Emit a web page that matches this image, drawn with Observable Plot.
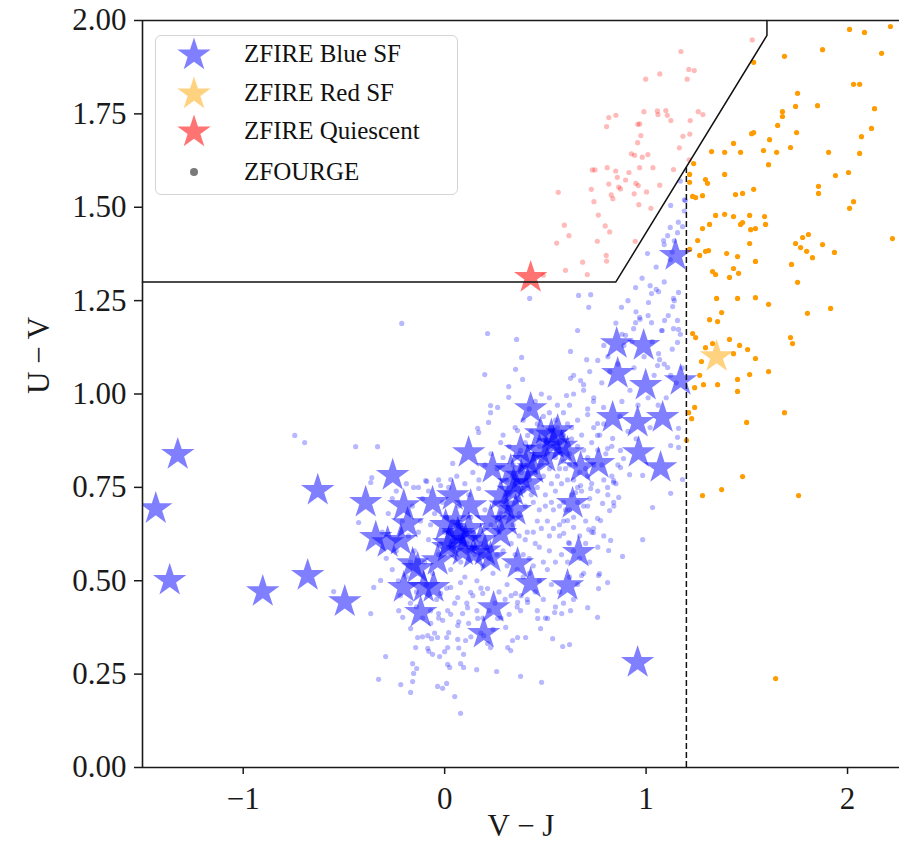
<!DOCTYPE html>
<html>
<head>
<meta charset="utf-8">
<script src="https://cdn.jsdelivr.net/npm/d3@7"></script>
<script src="https://cdn.jsdelivr.net/npm/@observablehq/plot@0.6"></script>
<style>
  body { margin: 0; background: #fff; }
  #wrap { position: relative; width: 899px; height: 847px; overflow: hidden; }
  #legend { position: absolute; left: 155px; top: 35px; width: 301px; height: 158px;
    border: 1.5px solid #d4d4d4; border-radius: 6px; background: rgba(255,255,255,0.85);
    font-family: "Liberation Serif", serif; font-size: 25px; color: #111; }
  .lrow { position: absolute; left: 0; width: 300px; height: 40px; }
  .lrow svg { position: absolute; left: 18px; top: 0; }
  .lrow span { position: absolute; left: 88px; top: 50%; transform: translateY(-50%); white-space: nowrap; }
</style>
</head>
<body>
<div id="wrap"></div>
<script>
// ---------------- data (V−J, U−V) ----------------
const xTicks = [-1, 0, 1, 2];
const yTicks = [0, 0.25, 0.5, 0.75, 1.0, 1.25, 1.5, 1.75, 2.0];

// UVJ selection boundary and separation line
const boundaryVJ = [-1.5, 0.85, 1.6, 1.6];
const boundaryUV = [1.3, 1.3, 1.96, 2.0];
const dividerVJ = 1.2;
const dividerTopUV = 1.606;

// ZFIRE stars
const zfireBlue = [
  [-1.325,0.838],[-1.434,0.693],[-1.365,0.501],[-0.903,0.471],[-0.680,0.514],[-0.630,0.742],
  [-0.496,0.444],[-0.392,0.710],[-0.258,0.782],[-0.342,0.616],[-0.203,0.701],[-0.060,0.710],
  [-0.218,0.608],[-0.134,0.533],[-0.203,0.482],[-0.119,0.415],[-0.055,0.482],[-0.184,0.653],
  [-0.283,0.602],[0.015,0.589],[0.040,0.728],[0.119,0.843],[0.238,0.801],[0.129,0.701],
  [0.065,0.627],[0.144,0.573],[0.228,0.562],[0.278,0.627],[0.342,0.760],[0.412,0.760],
  [0.412,0.822],[0.476,0.894],[0.561,0.902],[0.541,0.867],[0.610,0.843],[0.675,0.803],
  [0.764,0.814],[0.635,0.707],[0.665,0.576],[0.610,0.487],[0.427,0.493],[0.362,0.546],
  [0.243,0.428],[0.194,0.359],[0.427,0.961],[0.958,0.281],[1.146,1.371],[0.854,1.135],
  [0.988,1.130],[0.859,1.055],[0.998,1.023],[1.171,1.036],[0.834,0.937],[0.958,0.924],
  [1.082,0.937],[0.963,0.843],[1.072,0.803],[-0.035,0.554],[-0.104,0.482],[-0.159,0.546],
  [0.055,0.661],[0.104,0.608],[0.005,0.648],[0.179,0.608],[0.228,0.661],[0.328,0.795],
  [0.377,0.849],[0.278,0.728],[0.352,0.688],
  [0.02,0.60],[0.09,0.58],[0.12,0.64],[0.20,0.58],[0.30,0.70],[0.34,0.74],[0.38,0.78],
  [0.44,0.80],[0.47,0.85],[0.50,0.83],[0.53,0.89],[0.58,0.86],[0.07,0.62],[0.31,0.66]
];
const zfireRed = [[1.35, 1.10]];
const zfireQuiescent = [[0.427, 1.312]];

// ZFOURGE: blue star-forming sample
const zfourgeBlueOuter = [
  [-0.318,0.501],[-0.352,0.482],[-0.367,0.412],[-0.293,0.297],[-0.328,0.236],[-0.218,0.222],
  [-0.169,0.201],[-0.159,0.230],[-0.159,0.278],[-0.139,0.265],[-0.144,0.321],[-0.084,0.319],
  [-0.079,0.311],[-0.060,0.303],[-0.025,0.297],[-0.065,0.345],[-0.035,0.348],[0.015,0.321],
  [0.010,0.348],[0.065,0.343],[0.104,0.340],[0.094,0.303],[0.015,0.276],[0.025,0.268],
  [0.079,0.278],[0.094,0.268],[0.159,0.262],[0.258,0.257],[0.377,0.244],[0.481,0.228],
  [-0.035,0.217],[-0.010,0.212],[0.010,0.225],[0.050,0.190],[0.079,0.145],[0.313,0.321],
  [0.337,0.340],[0.362,0.348],[0.402,0.348],[0.328,0.313],[0.536,0.345],[0.586,0.324],
  [0.620,0.329],[0.476,0.372],[0.462,0.399],[0.511,0.399],[0.546,0.415],[0.581,0.412],
  [0.625,0.420],[0.377,0.420],[0.412,0.442],[0.362,0.442],[0.303,0.375],[0.263,0.399],
  [0.164,0.399],[0.119,0.386],[0.065,0.380],[0.020,0.361],[-0.010,0.394],[0.015,0.420],
  [-0.030,0.412],[-0.169,0.372],[-0.208,0.402],[-0.228,0.420],[-0.069,0.386],[0.089,0.412],
  [0.114,0.428],[0.065,0.455],[0.129,0.469],[0.189,0.466],[0.213,0.479],[0.352,0.466],
  [0.030,0.482],[0.079,0.495],[-0.020,0.466],[-0.084,0.353],[-0.134,0.348],[0.213,0.332],
  [0.228,0.321],[0.194,0.353],[-0.154,0.252],
  [0.228,0.969],[0.263,0.964],[0.228,0.950],[0.218,0.924],[0.164,0.908],[0.169,0.897],
  [0.278,0.870],[0.040,0.814],[-0.094,0.768],[-0.154,0.750],[-0.020,0.755],[0.030,0.771],
  [0.169,0.747],[1.122,0.734],[1.032,0.696],[0.983,0.610],[0.883,0.565],[0.814,0.581],
  [0.824,0.608],[0.739,0.629],[0.759,0.667],[0.839,0.710],[0.864,0.723],[0.809,0.750],
  [0.839,0.768],[0.873,0.803],[0.764,0.514],[0.809,0.495],[0.759,0.402],[0.710,0.428],
  [-0.744,0.889],[-0.695,0.870],[-0.442,0.859],[-0.333,0.859],[-0.367,0.763],[-0.362,0.776],
  [-0.427,0.656],[-0.089,0.766],[-0.551,0.471],[-0.213,1.189]
];
const zfourgeBlueUpper = [
  [0.422,1.256],[0.665,1.264],[0.725,1.266],[0.715,1.232],[0.878,1.232],[0.948,1.285],
  [1.027,1.269],[1.062,1.274],[1.012,1.245],[1.161,1.272],[1.136,1.256],[1.132,1.234],
  [0.948,1.191],[0.968,1.205],[0.938,1.175],[1.027,1.191],[1.092,1.197],[1.077,1.170],
  [1.136,1.175],[1.161,1.173],[0.660,1.170],[0.898,1.157],[0.213,1.162],[0.357,1.146],
  [0.625,1.114],[0.382,1.098],[0.705,1.092],[0.352,1.066],[0.199,1.052],[0.387,1.039],
  [0.625,1.042],[0.640,1.050],[0.675,1.036],[0.690,1.025],[0.318,1.020],[0.318,0.991],
  [0.605,0.996],[0.710,0.945],[0.739,0.980],[0.789,0.964],[0.759,0.921],[0.834,0.881],
  [0.759,0.889],[0.809,0.854],[0.873,0.849],[1.067,1.092],[1.107,1.071],[1.122,1.050],
  [1.161,0.908],[1.156,0.884],[1.122,0.862],[1.161,0.857],[1.156,1.197],[0.362,0.902],
  [0.412,0.889],[0.377,0.849],[1.156,1.432],[1.107,1.424],[1.087,1.411],[1.181,1.448],
  [1.007,1.376],[1.062,1.108],[1.057,1.076],[1.156,1.138],
  [0.888,0.827],[0.918,0.784],[0.983,0.782],[1.181,0.771],[0.839,0.763],[0.819,0.688],
  [0.784,0.707],[0.774,0.661],[0.725,0.747],[0.715,0.637],[0.739,0.640],[0.769,0.519],
  [0.764,0.479],[0.680,0.514],[0.650,0.736],[0.675,0.755],[0.610,0.661],[0.640,0.643],
  [0.591,0.627],[0.615,0.602],
  [1.195,1.518],[1.122,1.505],[1.120,1.446],[1.17,1.57],[1.14,1.41],[1.19,1.49]
];
const zfourgeBlueCore = [
  [-0.18,0.62],[-0.15,0.58],[-0.12,0.66],[-0.10,0.55],[-0.08,0.61],[-0.05,0.68],[-0.03,0.57],
  [0.00,0.63],[0.02,0.59],[0.04,0.66],[0.06,0.61],[0.08,0.55],[0.09,0.64],[0.11,0.60],
  [0.13,0.67],[0.15,0.57],[0.17,0.62],[0.19,0.54],[0.21,0.59],[0.23,0.65],[-0.16,0.70],
  [-0.11,0.72],[-0.06,0.52],[-0.01,0.71],[0.03,0.53],[0.07,0.70],[0.10,0.51],[0.12,0.73],
  [0.16,0.50],[0.20,0.69],[-0.19,0.51],[-0.14,0.47],[-0.09,0.49],[-0.04,0.45],[0.01,0.48],
  [0.05,0.44],[0.14,0.46],[0.18,0.48],[0.24,0.52],[0.26,0.57],[-0.13,0.63],[-0.07,0.65],
  [-0.02,0.60],[0.01,0.67],[0.05,0.57],[0.08,0.62],[0.12,0.58],[0.14,0.63],[0.18,0.60],
  [0.22,0.56],[-0.17,0.55],[-0.21,0.66],[-0.24,0.58],[-0.26,0.72],[-0.23,0.50],[0.27,0.63],
  [0.29,0.58],[0.31,0.54],[0.28,0.68],
  [0.26,0.66],[0.28,0.71],[0.30,0.67],[0.32,0.73],[0.33,0.69],[0.35,0.76],[0.36,0.72],
  [0.38,0.79],[0.39,0.74],[0.41,0.81],[0.42,0.77],[0.44,0.84],[0.45,0.79],[0.47,0.86],
  [0.48,0.82],[0.50,0.88],[0.51,0.84],[0.53,0.90],[0.54,0.86],[0.56,0.91],[0.57,0.87],
  [0.59,0.89],[0.61,0.92],[0.63,0.88],[0.34,0.65],[0.37,0.68],[0.40,0.70],[0.43,0.73],
  [0.46,0.75],[0.49,0.78],[0.52,0.80],[0.55,0.83],[0.58,0.84],[0.60,0.80],[0.31,0.77],
  [0.34,0.81],[0.37,0.84],[0.40,0.87],[0.43,0.90],[0.46,0.92],[0.49,0.94],[0.52,0.95],
  [0.55,0.93],[0.44,0.71],[0.47,0.69],[0.50,0.73],[0.53,0.76],[0.56,0.78],[0.62,0.84],[0.65,0.81],
  [0.31,0.49],[0.36,0.53],[0.39,0.57],[0.44,0.63],[0.51,0.66],[0.54,0.69],[0.59,0.71],
  [0.66,0.75],[0.71,0.78],[0.74,0.81],[0.38,0.46],[0.42,0.52],[0.49,0.55],[0.52,0.58],
  [0.57,0.62],[0.64,0.67],[0.69,0.70],[0.72,0.72],[0.79,0.77],[0.83,0.78],[0.41,0.63],
  [0.47,0.59],[0.52,0.62],[0.57,0.65],[0.62,0.60],[0.67,0.62],[0.70,0.66],[0.69,0.85],
  [0.73,0.87],[0.76,0.85],[0.79,0.92],[0.83,0.86],[0.87,0.94],[0.88,0.98],[0.92,1.01],
  [0.66,0.93],[0.71,0.96],[0.74,0.99],[0.78,1.03],[0.82,1.06],[0.86,1.08],[0.89,1.13],
  [0.93,1.14],[0.97,1.20],[1.01,1.21],[1.05,1.28],[1.09,1.30],[1.12,1.36],[0.94,1.07],
  [0.99,1.10],[1.03,1.14],[1.08,1.17],[1.11,1.21],[1.14,1.25],[0.96,0.97],[1.01,0.99],
  [1.04,1.05],[1.09,1.08],[1.13,1.12],[1.17,1.16],[0.91,0.90],[0.95,0.88],[1.02,0.91],
  [1.06,0.97],[1.10,0.99],[1.15,1.03],[1.18,1.07]
];
const zfourgeBlueFill = [
  [0.33,0.60],[0.37,0.62],[0.35,0.57],[0.40,0.61],[0.42,0.56],[0.45,0.60],[0.48,0.64],
  [0.46,0.66],[0.50,0.70],[0.53,0.71],[0.55,0.74],[0.58,0.76],[0.61,0.77],[0.63,0.73],
  [0.60,0.69],[0.57,0.70],[0.54,0.64],[0.59,0.66],[0.62,0.69],[0.66,0.71],[0.68,0.74],
  [0.71,0.70],[0.73,0.76],[0.76,0.74],[0.70,0.80],[0.67,0.79],[0.64,0.77],[0.62,0.81],
  [0.59,0.82],[0.57,0.80],[0.66,0.86],[0.63,0.91],[0.68,0.89],[0.71,0.83],[0.74,0.91],
  [0.77,0.89],[0.80,0.84],[0.78,0.81],[0.81,0.73],[0.85,0.76],[0.86,0.81],[0.84,0.70],
  [0.39,0.51],[0.44,0.54],[0.47,0.50],[0.51,0.53],[0.55,0.55],[0.58,0.57],[0.61,0.55],
  [0.64,0.58],[0.67,0.56],[0.70,0.60],[0.73,0.63],[0.76,0.59],[0.79,0.62],[0.72,0.55],
  [0.69,0.52],[0.66,0.49],[0.62,0.51],[0.57,0.47],[0.53,0.49],[0.49,0.45],[0.45,0.47],
  [0.41,0.45],[0.36,0.43],[0.33,0.46],[0.30,0.45],[0.27,0.47],[0.25,0.44],[0.22,0.42],
  [0.28,0.40],[0.32,0.41],[0.46,0.42],[0.50,0.40],[0.55,0.43],[0.59,0.44],[0.64,0.45],
  [-0.14,0.43],[-0.11,0.40],[-0.07,0.42],[-0.03,0.40],[0.03,0.41],[0.07,0.39],[0.11,0.44],
  [0.16,0.42],[0.19,0.40],[0.24,0.37],[0.18,0.36],[0.13,0.35],[0.07,0.32],[0.00,0.31],
  [-0.05,0.36],[-0.11,0.35],[-0.17,0.44],[-0.22,0.46],[-0.26,0.53],[-0.29,0.56],[-0.31,0.63],
  [-0.28,0.68],[-0.24,0.74],[-0.19,0.76],[-0.13,0.75],[-0.08,0.74],[-0.03,0.77],[0.02,0.75],
  [0.06,0.78],[0.10,0.76],[0.14,0.79],[0.17,0.77],[0.20,0.81],[0.23,0.84],[0.26,0.80],
  [0.29,0.83],[0.32,0.86],[0.29,0.89],[0.35,0.91],[0.39,0.93],[0.42,0.96],[0.45,0.98],
  [0.48,1.00],[0.52,0.99],[0.56,0.97],[0.59,0.95],[0.62,0.97],[0.64,1.00],[0.69,1.01],
  [0.72,1.06],[0.76,1.09],[0.79,1.13],[0.81,1.10],[0.85,1.19],[0.88,1.16],[0.91,1.25],
  [0.95,1.22],[0.98,1.31],[1.02,1.29],[1.05,1.34],[1.09,1.40],[1.13,1.38],[1.16,1.46],
  [1.19,1.52]
];

// ZFOURGE: quiescent sample
const zfourgeQuiescent = [
  [1.527,1.948],[1.173,1.917],[1.068,1.857],[0.998,1.843],[1.212,1.869],[1.239,1.866],
  [1.204,1.843],[0.989,1.756],[1.056,1.758],[1.059,1.748],[1.098,1.759],[1.105,1.746],
  [1.123,1.732],[1.259,1.756],[1.282,1.748],[1.219,1.732],[0.850,1.746],[0.815,1.740],
  [0.804,1.716],[0.959,1.722],[0.968,1.723],[0.974,1.692],[0.958,1.673],[1.183,1.690],
  [1.217,1.696],[1.165,1.659],[0.927,1.643],[0.943,1.639],[0.981,1.634],[1.009,1.641],
  [1.214,1.627],[0.733,1.600],[0.746,1.600],[0.807,1.606],[0.849,1.597],[0.857,1.580],
  [0.915,1.593],[0.968,1.606],[1.034,1.606],[1.136,1.601],[0.815,1.562],[0.864,1.554],
  [0.873,1.549],[0.898,1.573],[0.949,1.564],[0.961,1.558],[1.068,1.559],[0.564,1.540],
  [0.728,1.548],[0.741,1.515],[0.827,1.533],[0.835,1.523],[0.941,1.536],[1.002,1.541],
  [0.964,1.507],[1.024,1.497],[0.763,1.479],[0.594,1.452],[0.797,1.450],[0.819,1.434],
  [0.617,1.424],[0.556,1.404],[0.758,1.409],[0.946,1.409],[0.802,1.371],[0.804,1.356],
  [0.685,1.353],[0.600,1.331],[0.708,1.320],[0.490,1.318]
];

// ZFOURGE: red star-forming sample
const zfourgeRed = [
  [2.010,1.976],[2.084,1.968],[2.213,1.984],[1.876,1.922],[1.687,1.904],[2.169,1.912],
  [1.534,1.888],[2.030,1.829],[2.060,1.829],[1.752,1.805],[1.742,1.770],[1.851,1.772],
  [1.677,1.756],[1.677,1.743],[2.134,1.764],[1.653,1.719],[2.119,1.711],[1.747,1.700],
  [1.524,1.697],[1.534,1.700],[2.069,1.689],[1.613,1.681],[1.434,1.671],[1.717,1.660],
  [1.583,1.652],[1.325,1.649],[1.390,1.647],[1.469,1.647],[1.648,1.647],[1.906,1.647],
  [2.060,1.644],[1.236,1.617],[1.608,1.614],[1.390,1.588],[1.216,1.588],[1.216,1.567],
  [1.295,1.574],[1.305,1.564],[1.940,1.585],[2.005,1.593],[1.856,1.556],[1.856,1.537],
  [1.534,1.548],[1.444,1.534],[1.479,1.537],[1.231,1.529],[1.246,1.526],[1.280,1.531],
  [2.030,1.515],[2.010,1.497],[1.345,1.478],[1.390,1.481],[1.434,1.475],[1.514,1.478],
  [1.588,1.475],[1.315,1.454],[1.280,1.443],[1.469,1.454],[1.479,1.459],[1.519,1.440],
  [1.543,1.443],[1.593,1.454],[1.256,1.411],[1.514,1.403],[1.742,1.403],[1.777,1.419],
  [1.806,1.427],[1.876,1.400],[2.223,1.416],[1.767,1.392],[1.797,1.382],[1.826,1.365],
  [1.935,1.379],[1.216,1.387],[1.266,1.371],[1.295,1.382],[1.310,1.384],[1.400,1.376],
  [1.454,1.368],[1.543,1.355],[1.722,1.347],[1.330,1.328],[1.345,1.320],[1.434,1.336],
  [1.414,1.312],[1.459,1.323],[1.752,1.299],[1.350,1.256],[1.454,1.256],[1.543,1.258],
  [1.608,1.240],[1.916,1.229],[1.801,1.216],[1.375,1.218],[1.315,1.199],[1.355,1.194],
  [1.231,1.162],[1.246,1.151],[1.414,1.146],[1.330,1.135],[1.295,1.124],[1.464,1.130],
  [1.504,1.119],[1.434,1.108],[1.717,1.151],[1.727,1.135],[1.543,1.095],[1.275,1.087],
  [1.608,1.060],[1.514,1.052],[1.266,1.050],[1.454,1.039],[1.355,1.025],[1.285,1.025],
  [1.241,1.017],[1.454,1.007],[1.241,0.964],[1.211,0.950],[1.226,0.934],[1.687,0.950],
  [1.499,0.924],[1.201,0.876],[1.479,0.779],[1.280,0.728],[1.375,0.744],[1.757,0.728],
  [1.643,0.238]
];

// ---------------- build ----------------
const pts = a => a.map(([vj, uv]) => ({vj, uv}));
const blueDots = pts([...zfourgeBlueOuter, ...zfourgeBlueUpper, ...zfourgeBlueCore, ...zfourgeBlueFill]);
const boundary = boundaryVJ.map((vj, i) => ({vj, uv: boundaryUV[i]}));

const serif = '"Liberation Serif", "Times New Roman", serif';
const ink = "#1a1a1a";

const chart = Plot.plot({
  width: 899,
  height: 847,
  marginLeft: 142,
  marginRight: 0,
  marginTop: 20,
  marginBottom: 80,
  style: {fontFamily: serif, fontSize: "31px", background: "white", color: ink},
  x: {domain: [-1.5, 2.258]},
  y: {domain: [0, 2]},
  marks: [
    Plot.dot(blueDots, {x: "vj", y: "uv", r: 2.6, fill: "blue", fillOpacity: 0.28, clip: true}),
    Plot.dot(pts(zfourgeQuiescent), {x: "vj", y: "uv", r: 2.6, fill: "red", fillOpacity: 0.27, clip: true}),
    Plot.dot(pts(zfourgeRed), {x: "vj", y: "uv", r: 2.6, fill: "#ff9c00", clip: true}),
    Plot.dot(pts(zfireBlue), {x: "vj", y: "uv", symbol: "star", r: 10.5, fill: "blue", fillOpacity: 0.5, clip: true}),
    Plot.dot(pts(zfireRed), {x: "vj", y: "uv", symbol: "star", r: 10.5, fill: "orange", fillOpacity: 0.5, clip: true}),
    Plot.dot(pts(zfireQuiescent), {x: "vj", y: "uv", symbol: "star", r: 10.5, fill: "red", fillOpacity: 0.55, clip: true}),
    Plot.line(boundary, {x: "vj", y: "uv", stroke: "#111", strokeWidth: 1.5}),
    Plot.ruleX([dividerVJ], {y1: 0, y2: dividerTopUV, stroke: "#111", strokeWidth: 1.5, strokeDasharray: "6,3"}),
    Plot.ruleX([-1.5], {stroke: ink, strokeWidth: 1.6}),
    Plot.ruleY([0, 2], {stroke: ink, strokeWidth: 1.6}),
    Plot.axisX({ticks: xTicks, tickFormat: d3.format("d"), tickSize: 7, tickPadding: 12, strokeWidth: 1.5, label: null, fontSize: 31}),
    Plot.axisY({ticks: yTicks, tickFormat: d3.format(".2f"), tickSize: 8, tickPadding: 8, strokeWidth: 1.5, label: null, fontSize: 31}),
    Plot.text(["V − J"], {frameAnchor: "bottom", dy: 68, fontSize: 31, fill: ink}),
    Plot.text(["U − V"], {frameAnchor: "left", dx: -103, rotate: -90, fontSize: 31, fill: ink})
  ]
});

const wrap = document.getElementById("wrap");
wrap.appendChild(chart);

// ---------------- legend ----------------
const legendItems = [
  {label: "ZFIRE Blue SF", kind: "star", color: "blue", opacity: 0.5},
  {label: "ZFIRE Red SF", kind: "star", color: "orange", opacity: 0.5},
  {label: "ZFIRE Quiescent", kind: "star", color: "red", opacity: 0.55},
  {label: "ZFOURGE", kind: "dot", color: "#7a7a7a", opacity: 1}
];
const rowCenters = [18, 57, 95, 136];
const legend = document.createElement("div");
legend.id = "legend";
legendItems.forEach((it, i) => {
  const row = document.createElement("div");
  row.className = "lrow";
  row.style.top = (rowCenters[i] - 20) + "px";
  const svg = d3.create("svg").attr("width", 40).attr("height", 40);
  if (it.kind === "star") {
    svg.append("path")
      .attr("transform", "translate(20,21)")
      .attr("d", d3.symbol(d3.symbolStar, Math.PI * 10.5 * 10.5)())
      .attr("fill", it.color).attr("fill-opacity", it.opacity);
  } else {
    svg.append("circle").attr("cx", 20).attr("cy", 20).attr("r", 4).attr("fill", it.color);
  }
  row.appendChild(svg.node());
  const sp = document.createElement("span");
  sp.textContent = it.label;
  row.appendChild(sp);
  legend.appendChild(row);
});
wrap.appendChild(legend);
</script>
</body>
</html>
